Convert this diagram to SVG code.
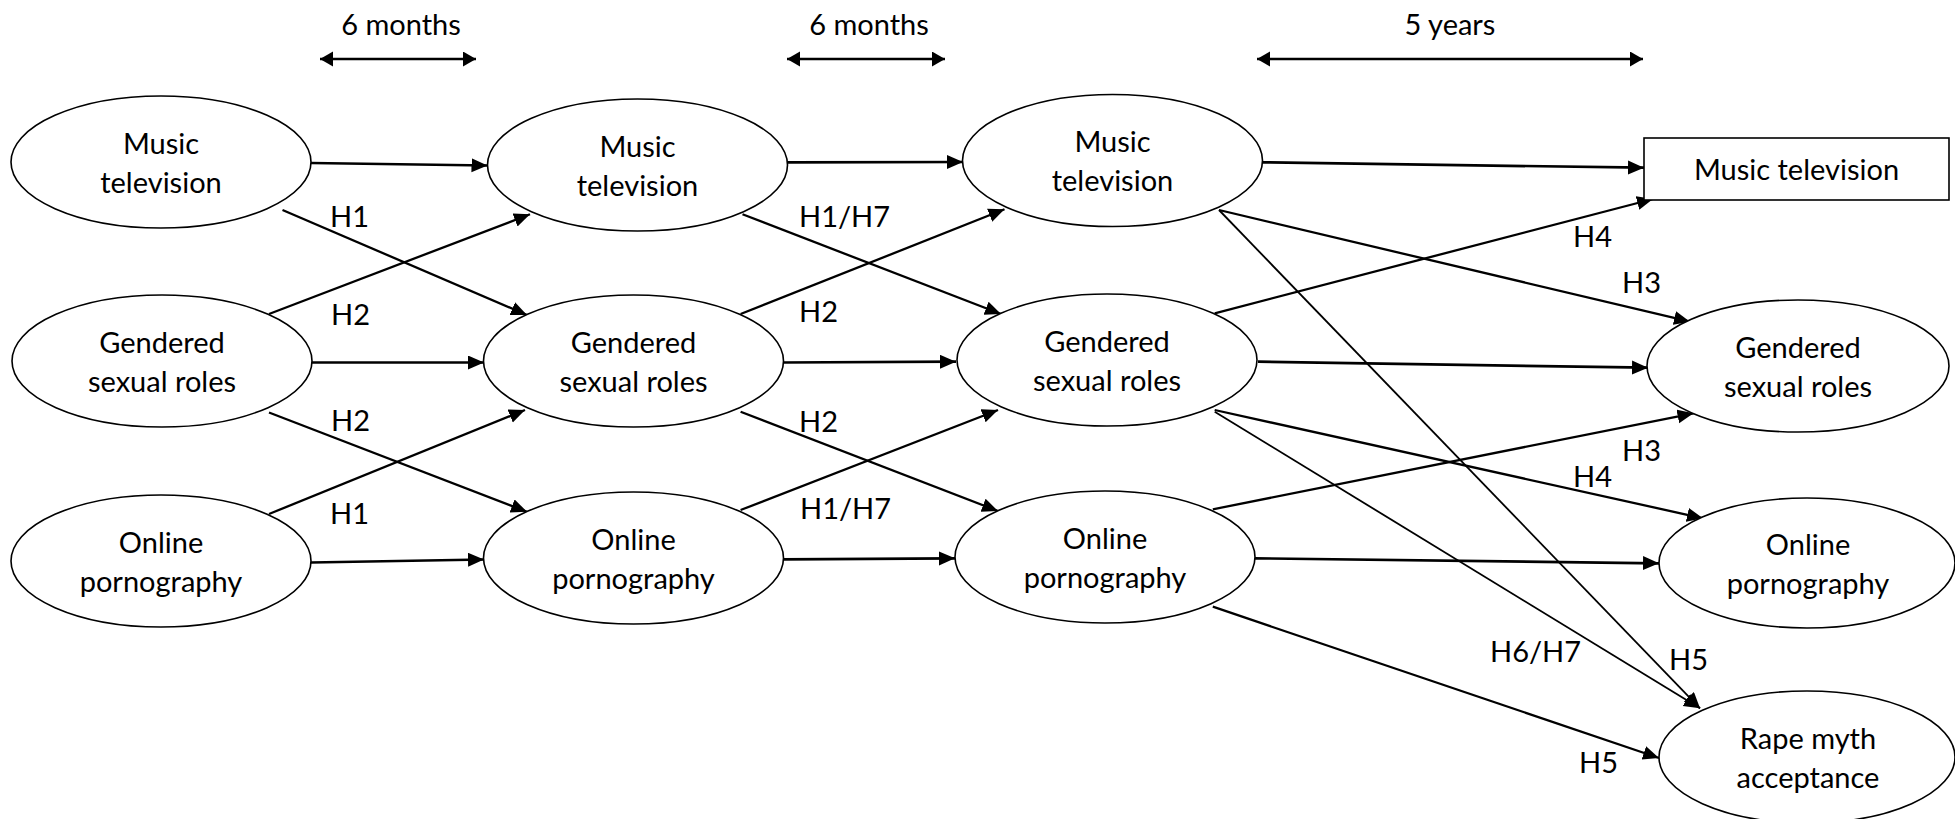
<svg xmlns="http://www.w3.org/2000/svg" width="1955" height="819" viewBox="0 0 1955 819">
<style>
  .node ellipse, .node rect { fill: #fff; stroke: #000; stroke-width: 1.6; }
  text { font-family: Lato, "Liberation Sans", sans-serif; font-size: 29px; fill: #000; }
  .nt { text-anchor: middle; }
  .lbl { text-anchor: start; }
  .c { stroke: #000; fill: none; stroke-width: 2.3; marker-end: url(#ah); }
  .h { stroke-width: 2.7; }
  .thin { stroke-width: 1.8; }
  .time { stroke: #000; stroke-width: 2.7; fill: none; marker-start: url(#th); marker-end: url(#th); }
</style>
<defs>
  <marker id="ah" markerUnits="userSpaceOnUse" markerWidth="17" markerHeight="15" refX="16" refY="7" orient="auto" viewBox="0 0 17 15">
    <path d="M0,0 L16,7 L0,14 z" fill="#000"/>
  </marker>
  <marker id="th" markerUnits="userSpaceOnUse" markerWidth="14" markerHeight="16" refX="13" refY="7.5" orient="auto-start-reverse" viewBox="0 0 14 16">
    <path d="M0,0 L13,7.5 L0,15 z" fill="#000"/>
  </marker>
</defs>
<rect x="0" y="0" width="1955" height="819" fill="#fff"/>

<g id="time">
  <text class="nt" x="401" y="35">6 months</text>
  <line class="time" x1="320" y1="59" x2="476" y2="59"/>
  <text class="nt" x="869" y="35">6 months</text>
  <line class="time" x1="787" y1="59" x2="945" y2="59"/>
  <text class="nt" x="1450" y="35">5 years</text>
  <line class="time" x1="1257" y1="59" x2="1643" y2="59"/>
</g>

<g id="connectors">
  <line class="c h" x1="311" y1="163" x2="487.5" y2="165.5"/>
  <line class="c h" x1="311" y1="362.5" x2="484" y2="362.5"/>
  <line class="c h" x1="311" y1="562.5" x2="484" y2="559.5"/>
  <line class="c h" x1="787.5" y1="162.3" x2="963" y2="162"/>
  <line class="c h" x1="783" y1="362.5" x2="956" y2="361.7"/>
  <line class="c h" x1="783" y1="559.3" x2="955" y2="558.3"/>
  <line class="c h" x1="1262" y1="162.3" x2="1644" y2="167.7"/>
  <line class="c h" x1="1258" y1="361.7" x2="1648" y2="367.7"/>
  <line class="c h" x1="1254.5" y1="558.3" x2="1659" y2="563.3"/>

  <line class="c" x1="282.5" y1="210" x2="527" y2="315"/>
  <line class="c" x1="269" y1="314" x2="530" y2="214.3"/>
  <line class="c" x1="269" y1="412.5" x2="527" y2="511.7"/>
  <line class="c" x1="269" y1="514" x2="525" y2="410"/>

  <line class="c" x1="742.5" y1="214.3" x2="1001" y2="314"/>
  <line class="c" x1="740.6" y1="314" x2="1004.5" y2="209.3"/>
  <line class="c" x1="740.6" y1="411.7" x2="998" y2="511"/>
  <line class="c" x1="740.6" y1="510" x2="998" y2="410"/>

  <line class="c" x1="1219" y1="210" x2="1690" y2="321.7"/>
  <line class="c thin" x1="1219" y1="210" x2="1700" y2="708.3"/>
  <line class="c" x1="1214.7" y1="313.3" x2="1653" y2="199"/>
  <line class="c" x1="1214.7" y1="410" x2="1703" y2="518.3"/>
  <line class="c thin" x1="1214.7" y1="411.7" x2="1700" y2="708.3"/>
  <line class="c" x1="1212.8" y1="509.3" x2="1693.5" y2="413.3"/>
  <line class="c" x1="1212.8" y1="606.7" x2="1659" y2="758"/>
</g>

<g id="labels">
  <text class="lbl" x="330" y="226.5">H1</text>
  <text class="lbl" x="331" y="325">H2</text>
  <text class="lbl" x="331" y="430.5">H2</text>
  <text class="lbl" x="330" y="524">H1</text>
  <text class="lbl" x="799" y="226.5">H1/H7</text>
  <text class="lbl" x="799" y="321.5">H2</text>
  <text class="lbl" x="799" y="431.5">H2</text>
  <text class="lbl" x="800" y="519">H1/H7</text>
  <text class="lbl" x="1573" y="246.5">H4</text>
  <text class="lbl" x="1622" y="293">H3</text>
  <text class="lbl" x="1622" y="461">H3</text>
  <text class="lbl" x="1573" y="486.5">H4</text>
  <text class="lbl" x="1490" y="661.5">H6/H7</text>
  <text class="lbl" x="1669" y="670">H5</text>
  <text class="lbl" x="1579" y="773">H5</text>
</g>

<g id="mt1" class="node"><ellipse cx="161" cy="162" rx="150" ry="66"/><text class="nt" x="161" y="154">Music</text><text class="nt" x="161" y="193">television</text></g>
<g id="gsr1" class="node"><ellipse cx="162" cy="361" rx="150" ry="66"/><text class="nt" x="162" y="353">Gendered</text><text class="nt" x="162" y="392">sexual roles</text></g>
<g id="op1" class="node"><ellipse cx="161" cy="561" rx="150" ry="66"/><text class="nt" x="161" y="553">Online</text><text class="nt" x="161" y="592">pornography</text></g>

<g id="mt2" class="node"><ellipse cx="637.5" cy="165" rx="150" ry="66"/><text class="nt" x="637.5" y="157">Music</text><text class="nt" x="637.5" y="196">television</text></g>
<g id="gsr2" class="node"><ellipse cx="633.5" cy="361" rx="150" ry="66"/><text class="nt" x="633.5" y="353">Gendered</text><text class="nt" x="633.5" y="392">sexual roles</text></g>
<g id="op2" class="node"><ellipse cx="633.5" cy="558" rx="150" ry="66"/><text class="nt" x="633.5" y="550">Online</text><text class="nt" x="633.5" y="589">pornography</text></g>

<g id="mt3" class="node"><ellipse cx="1112.5" cy="160.5" rx="150" ry="66"/><text class="nt" x="1112.5" y="152">Music</text><text class="nt" x="1112.5" y="191">television</text></g>
<g id="gsr3" class="node"><ellipse cx="1107" cy="360" rx="150" ry="66"/><text class="nt" x="1107" y="352">Gendered</text><text class="nt" x="1107" y="391">sexual roles</text></g>
<g id="op3" class="node"><ellipse cx="1105" cy="557" rx="150" ry="66"/><text class="nt" x="1105" y="549">Online</text><text class="nt" x="1105" y="588">pornography</text></g>

<g id="mt4" class="node"><rect x="1644" y="138" width="305" height="62"/><text class="nt" x="1796.5" y="180">Music television</text></g>
<g id="gsr4" class="node"><ellipse cx="1798" cy="366" rx="151" ry="66"/><text class="nt" x="1798" y="358">Gendered</text><text class="nt" x="1798" y="397">sexual roles</text></g>
<g id="op4" class="node"><ellipse cx="1807" cy="563" rx="148" ry="65"/><text class="nt" x="1808" y="555">Online</text><text class="nt" x="1808" y="594">pornography</text></g>
<g id="rma" class="node"><ellipse cx="1807" cy="757" rx="148" ry="66"/><text class="nt" x="1808" y="749">Rape myth</text><text class="nt" x="1808" y="788">acceptance</text></g>
</svg>
